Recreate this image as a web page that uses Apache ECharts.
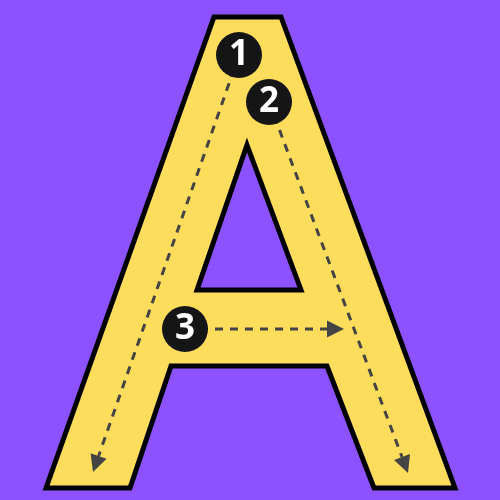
<!DOCTYPE html>
<html>
<head>
<meta charset="utf-8">
<script src="https://cdn.jsdelivr.net/npm/echarts@6/dist/echarts.min.js"></script>
<style>
  html, body { margin: 0; padding: 0; background: #8c52ff; }
  #chart { width: 500px; height: 500px; }
</style>
</head>
<body>
<div id="chart"></div>
<script>
// letter outline, in the 0..500 plot space (y grows downward)
var letterOuter = [[214, 17], [281, 17], [455, 488], [374, 488], [327, 366], [171, 366], [130, 488], [46, 488]];
var letterHole = [[247, 145], [301, 290], [197, 290]];

// stroke order paths: start (under the badge) -> arrow tip
var strokeStart = [[239, 55], [269, 102], [185, 329]];
var strokeEnd = [[93, 472], [408, 473], [344, 329]];

// numbered badges
var badgeLabel = ['1', '2', '3'];
var badgeX = [239, 269, 185];
var badgeY = [55, 102, 329];

var badgeData = [];
for (var i = 0; i < badgeLabel.length; i++) {
    badgeData.push({ name: badgeLabel[i], value: [badgeX[i], badgeY[i]] });
}

var strokeData = [];
for (var i = 0; i < strokeStart.length; i++) {
    strokeData.push([strokeStart[i][0], strokeStart[i][1], strokeEnd[i][0], strokeEnd[i][1]]);
}

var myChart = echarts.init(document.getElementById('chart'));

var option = {
    backgroundColor: '#8c52ff',
    animation: false,
    grid: { left: 0, right: 0, top: 0, bottom: 0 },
    xAxis: { type: 'value', min: 0, max: 500, show: false },
    yAxis: { type: 'value', min: 0, max: 500, inverse: true, show: false },
    series: [
        {
            name: 'letter',
            type: 'custom',
            data: [[0, 0]],
            renderItem: function (params, api) {
                var outer = letterOuter.map(function (p) { return api.coord(p); });
                var hole = letterHole.map(function (p) { return api.coord(p); });
                return {
                    type: 'group',
                    children: [
                        {
                            type: 'polygon',
                            shape: { points: outer },
                            style: { fill: '#ffdd5c', stroke: '#000', lineWidth: 5, lineJoin: 'miter' }
                        },
                        {
                            type: 'polygon',
                            shape: { points: hole },
                            style: { fill: '#8c52ff', stroke: '#000', lineWidth: 5, lineJoin: 'miter' }
                        }
                    ]
                };
            },
            z: 1
        },
        {
            name: 'strokes',
            type: 'custom',
            data: strokeData,
            renderItem: function (params, api) {
                var a = api.coord([api.value(0), api.value(1)]);
                var b = api.coord([api.value(2), api.value(3)]);
                var dx = b[0] - a[0], dy = b[1] - a[1];
                var len = Math.sqrt(dx * dx + dy * dy);
                var ux = dx / len, uy = dy / len;
                var headLen = 17, headW = 17;
                var base = [b[0] - ux * headLen, b[1] - uy * headLen];
                return {
                    type: 'group',
                    children: [
                        {
                            type: 'line',
                            shape: { x1: a[0], y1: a[1], x2: base[0], y2: base[1] },
                            style: { stroke: '#444', lineWidth: 3, lineDash: [8, 7] }
                        },
                        {
                            type: 'polygon',
                            shape: {
                                points: [
                                    b,
                                    [base[0] - uy * headW / 2, base[1] + ux * headW / 2],
                                    [base[0] + uy * headW / 2, base[1] - ux * headW / 2]
                                ]
                            },
                            style: { fill: '#444' }
                        }
                    ]
                };
            },
            z: 2
        },
        {
            name: 'badges',
            type: 'scatter',
            data: badgeData,
            symbol: 'circle',
            symbolSize: 46,
            itemStyle: { color: '#151515', opacity: 1 },
            label: {
                show: true,
                position: 'inside',
                formatter: '{b}',
                color: '#fff',
                fontSize: 35,
                fontWeight: 'bold',
                fontFamily: 'Open Sans'
            },
            z: 3
        }
    ]
};

myChart.setOption(option);
</script>
</body>
</html>
